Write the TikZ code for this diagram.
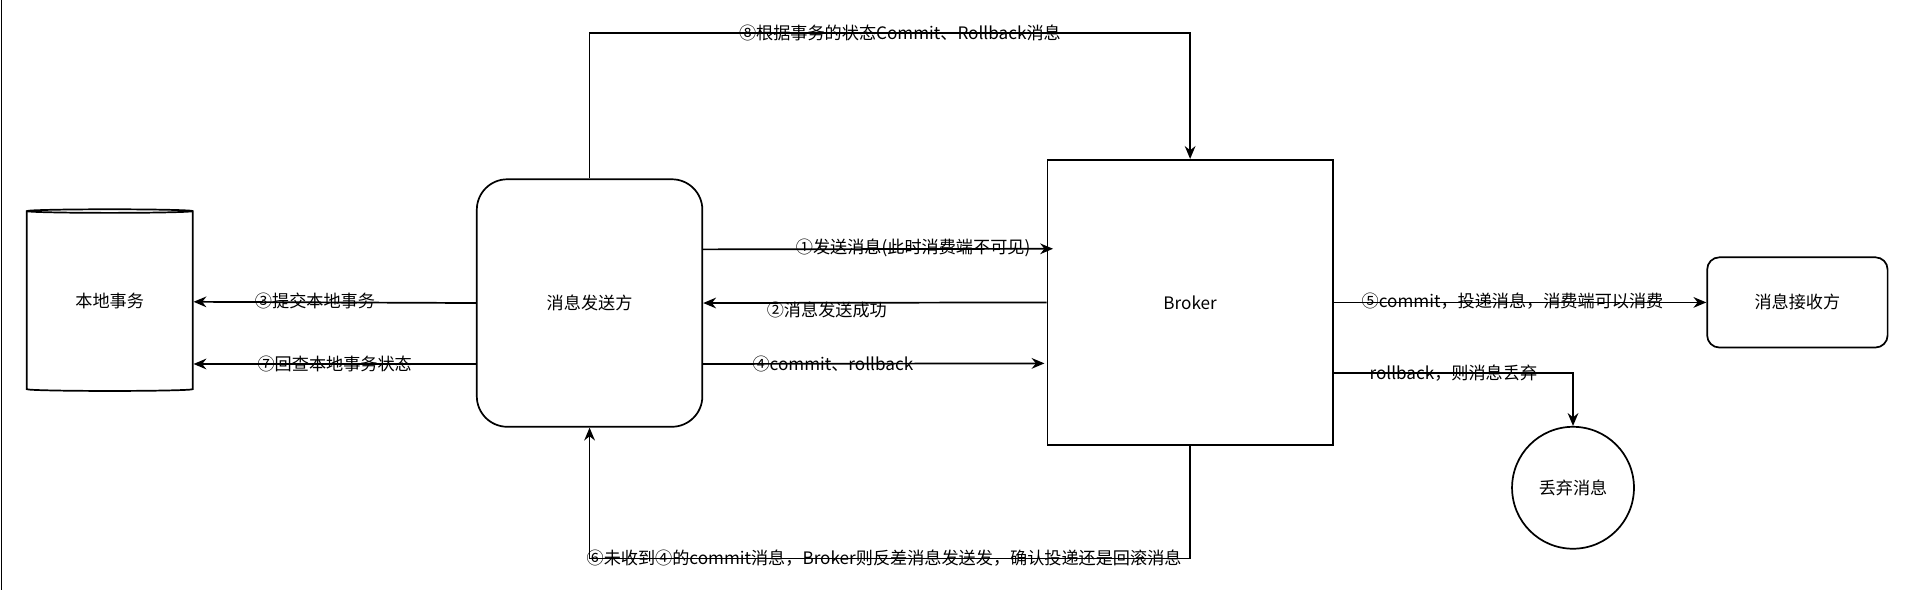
\documentclass[tikz,border=0pt]{standalone}
\usepackage{fontspec}
\setmainfont{Noto Sans CJK SC}
\usetikzlibrary{shapes.geometric,arrows.meta}
\begin{document}
\begin{tikzpicture}[x=0.02cm, y=-0.02cm, >={Stealth[length=6pt,width=5pt]},
  every node/.style={font=\fontsize{8}{10}\selectfont},
  box/.style={draw, rectangle, thick, inner sep=0pt},
  lbl/.style={inner sep=1pt}]
\useasboundingbox (0,0) rectangle (1568,484);
\draw (1,0) -- (1,484);
\node[draw, thick, cylinder, shape border rotate=90, aspect=0.25, minimum width=2.72cm, minimum height=2.98cm] (local) at (90,247.5) {};
\node at (90,247) {本地事务};
\node[box, rounded corners=0.5cm, minimum width=3.7cm, minimum height=4.06cm] (sender) at (483.5,248.5) {消息发送方};
\node[box, minimum width=4.68cm, minimum height=4.68cm] (broker) at (976,248) {Broker};
\node[box, rounded corners=0.2cm, minimum width=2.96cm, minimum height=1.48cm] (recv) at (1474,248) {消息接收方};
\node[draw, thick, circle, minimum size=2cm] (drop) at (1290,400) {丢弃消息};
% connectors
\draw[->, thick] (sender.north) |- (738,27) node[lbl] {⑧根据事务的状态Commit、Rollback消息} -| (broker.north);
\draw[->, thick] ([yshift=0.88cm]sender.east) -- ([yshift=0.88cm,xshift=3pt]broker.west) node[lbl, pos=0.6, below=-6pt] {①发送消息(此时消费端不可见)};
\draw[->, thick] (broker.west) -- (sender.east) node[lbl, pos=0.64, below=-2pt] {②消息发送成功};
\draw[->, thick] (sender.west) -- (local.east) node[lbl, pos=0.57, below=-6pt] {③提交本地事务};
\draw[->, thick] ([yshift=-1cm]sender.east) -- ([yshift=-1cm,xshift=-1pt]broker.west) node[lbl, pos=0.38, below=-5pt] {④commit、rollback};
\draw[->, thick] ([yshift=-1cm]sender.west) -- ([yshift=-1.02cm]local.east) node[lbl, pos=0.5] {⑦回查本地事务状态};
\draw[->, thick] (broker.east) -- (recv.west) node[lbl, pos=0.48, below=-6pt] {⑤commit，投递消息，消费端可以消费};
\draw[->, thick] ([yshift=-1.16cm]broker.east) -| (drop.north) node[lbl, pos=0.25, below=-5pt] {rollback，则消息丢弃};
\draw[->, thick] (broker.south) |- (725,458) node[lbl] {⑥未收到④的commit消息，Broker则反差消息发送发，确认投递还是回滚消息} -| (sender.south);
\end{tikzpicture}
\end{document}
